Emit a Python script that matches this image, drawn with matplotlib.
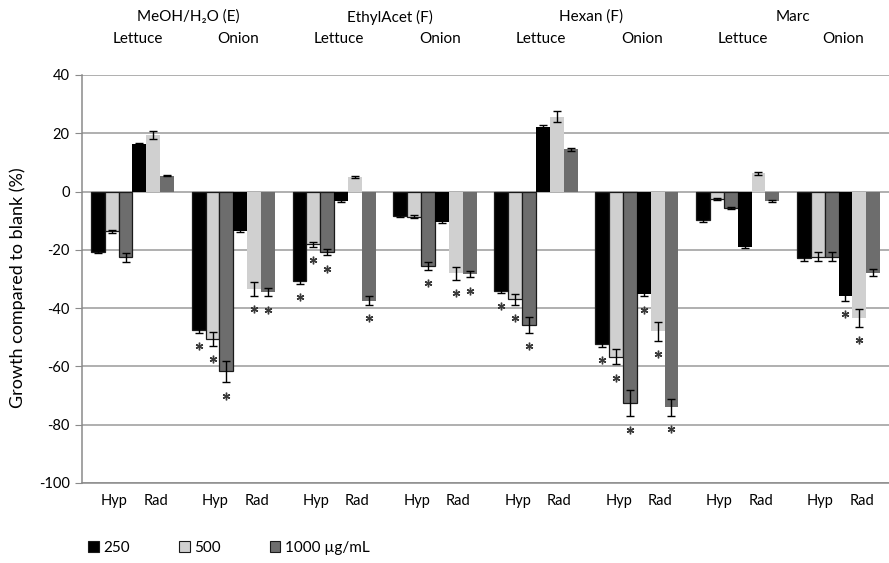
import matplotlib
matplotlib.use("Agg")
import matplotlib.pyplot as plt
import matplotlib.transforms as mtransforms
from matplotlib.patches import Patch
import numpy as np

plt.rcParams['font.family'] = ['Lato', 'DejaVu Sans']

# ---------------- data ----------------
extracts = ['MeOH/H\u2082O (E)', 'EthylAcet (F)', 'Hexan (F)', 'Marc']
plants = ['Lettuce', 'Onion']
organs = ['Hyp', 'Rad']
concs = ['250', '500', '1000 \u00b5g/mL']

# order: for each extract, for each plant: Hyp, Rad  (16 entries)
v250 = [-20.6, 16.2, -47.4, -13.4,
        -30.6, -3.3, -8.3, -10.3,
        -34.1, 22.0, -52.4, -35.1,
        -9.9, -18.9, -22.9, -35.8]
v500 = [-13.7, 19.4, -50.6, -33.4,
        -18.1, 5.1, -8.6, -28.0,
        -36.9, 25.7, -56.6, -48.0,
        -2.5, 6.3, -22.3, -43.4]
v1000 = [-22.5, 5.5, -61.7, -34.5,
         -20.8, -37.4, -25.4, -28.4,
         -45.7, 14.5, -72.6, -74.0,
         -5.7, -3.3, -22.3, -27.8]
e250 = [0.6, 0.5, 1.0, 0.5,
        1.0, 0.3, 0.4, 0.5,
        0.6, 0.7, 0.8, 0.9,
        0.4, 0.5, 0.8, 1.6]
e500 = [0.6, 1.5, 2.4, 2.3,
        0.8, 0.3, 0.5, 2.2,
        1.9, 1.9, 2.6, 3.3,
        0.3, 0.5, 1.4, 3.0]
e1000 = [1.5, 0.3, 3.7, 1.4,
         1.1, 1.4, 1.4, 1.0,
         2.7, 0.6, 4.5, 2.9,
         0.3, 0.3, 1.4, 1.1]
s250 = [0, 0, 1, 0,
        1, 0, 0, 0,
        1, 0, 1, 1,
        0, 0, 0, 1]
s500 = [0, 0, 1, 1,
        1, 0, 0, 1,
        1, 0, 1, 1,
        0, 0, 0, 1]
s1000 = [0, 0, 1, 1,
         1, 1, 1, 1,
         1, 0, 1, 1,
         0, 0, 0, 0]

values = [v250, v500, v1000]
errors = [e250, e500, e1000]
stars = [s250, s500, s1000]
colors = ['#000000', '#d0d0d0', '#6d6d6d']

yticks = [40, 20, 0, -20, -40, -60, -80, -100]

# ---------------- figure ----------------
W, H = 889, 563
fig = plt.figure(figsize=(W / 100, H / 100), dpi=100)
ax = fig.add_axes([82 / W, 1 - 483 / H, (W - 82) / W, (483 - 75) / H])

w = 0.1375
ncat = len(extracts) * len(plants)
for k in range(ncat * 2):
    cat = k // 2
    part = k % 2
    for j in range(3):
        x = cat + 0.5 + (3 * part + j - 2.5) * w
        v = values[j][k]
        e = errors[j][k]
        ec = '#1a1a1a' if part == 0 else 'none'
        ax.bar(x, v, width=w, color=colors[j], edgecolor=ec, linewidth=0.9, zorder=3)
        ax.errorbar(x, v, yerr=e, fmt='none', ecolor='black', elinewidth=1,
                    capsize=3.2, capthick=1, zorder=4)
        if stars[j][k]:
            ax.plot([x], [v - e - 4.6], linestyle='none', marker=(6, 2, 0),
                    markersize=5.5, markeredgewidth=1.0, color='#3a3a3a', zorder=5)

ax.set_xlim(0, ncat)
ax.set_ylim(-100, 40)
ax.set_yticks(yticks)
ax.set_yticklabels([str(t) for t in yticks], fontsize=10.5)
ax.yaxis.grid(True, color='#9a9a9a', linewidth=1.1, zorder=0)
ax.set_axisbelow(True)
for sp in ['top', 'right']:
    ax.spines[sp].set_visible(False)
ax.spines['left'].set_color('#8a8a8a')
ax.spines['bottom'].set_color('#8a8a8a')
ax.spines['left'].set_linewidth(1.1)
ax.spines['bottom'].set_linewidth(1.1)
ax.tick_params(axis='y', length=5, color='#8a8a8a', pad=4)

# Hyp / Rad labels as x ticks
xt, xl = [], []
for cat in range(ncat):
    xt += [cat + 0.5 - 0.18, cat + 0.5 + 0.23]
    xl += organs
ax.set_xticks(xt)
ax.set_xticklabels(xl, fontsize=10.5)
ax.tick_params(axis='x', length=0, pad=8)

fig.text(18 / W, 1 - 288 / H, 'Growth compared to blank (%)', rotation=90,
         ha='center', va='center', fontsize=13)

# headers
trans = mtransforms.blended_transform_factory(ax.transData, fig.transFigure)
for i, name in enumerate(extracts):
    ax.text(2 * i + 1.05, 1 - 17 / H, name, transform=trans, ha='center',
            va='center', fontsize=11)
    for p, pl in enumerate(plants):
        ax.text(2 * i + p + 0.55, 1 - 39 / H, pl, transform=trans, ha='center',
                va='center', fontsize=11)

# legend
handles = [Patch(facecolor=c, edgecolor='#1a1a1a', linewidth=0.8) for c in colors]
fig.legend(handles, concs, loc='center left', bbox_to_anchor=(82 / W, 1 - 548 / H),
           ncol=3, frameon=False, fontsize=11, handlelength=0.7, handleheight=0.7,
           handletextpad=0.3, columnspacing=3.2, borderaxespad=0)

fig.savefig('out.png', dpi=100)
